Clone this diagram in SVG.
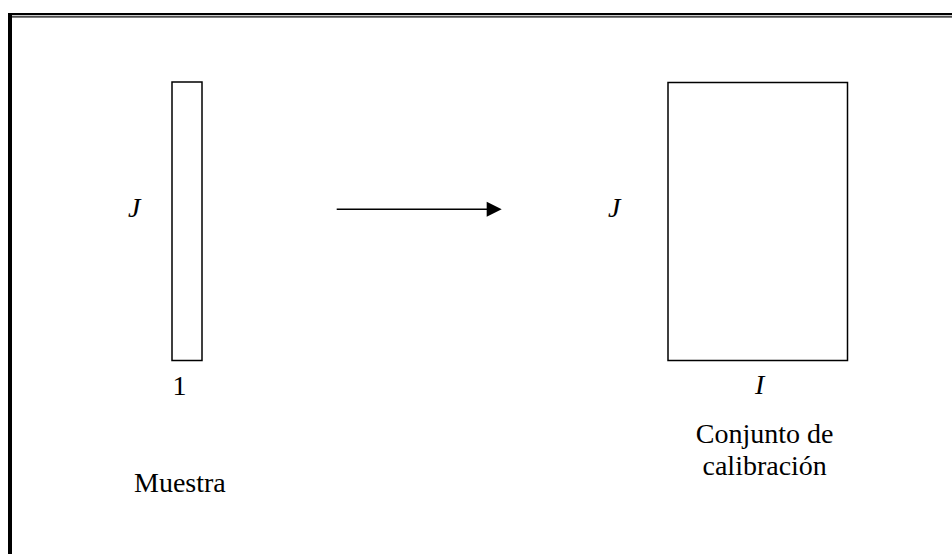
<svg xmlns="http://www.w3.org/2000/svg" width="952" height="554" viewBox="0 0 952 554">
<style>
.t{font-family:'Liberation Serif','Times New Roman',Times,'DejaVu Serif',serif;font-size:28px;fill:#000}
.i{font-style:italic}
.box{fill:#fff;stroke:#000;stroke-width:1.5}
</style>
<rect width="952" height="554" fill="#fff"/>
<g id="frame">
<rect x="8" y="13" width="944" height="2.2" fill="#000"/>
<rect x="8" y="16.3" width="944" height="1.2" fill="#000"/>
<rect x="8" y="13" width="4" height="541" fill="#000"/>
</g>
<g id="muestra">
<rect class="box" x="172" y="82" width="30" height="278.5"/>
<text class="t i" x="128" y="216.7">J</text>
<text class="t" x="172.5" y="395">1</text>
<text class="t" x="134" y="491.7">Muestra</text>
</g>
<g id="calibracion">
<rect class="box" x="668" y="82.5" width="179.5" height="278"/>
<text class="t i" x="608" y="216.7">J</text>
<text class="t i" x="755" y="394.3">I</text>
<text class="t" x="764.7" y="443.3" text-anchor="middle">Conjunto de</text>
<text class="t" x="764.7" y="475" text-anchor="middle">calibración</text>
</g>
<g id="connectors">
<line x1="336.7" y1="209.3" x2="487" y2="209.3" stroke="#000" stroke-width="1.6"/>
<path d="M486.7,201.8 L501.7,209.3 L486.7,216.8 Z" fill="#000"/>
</g>
</svg>
